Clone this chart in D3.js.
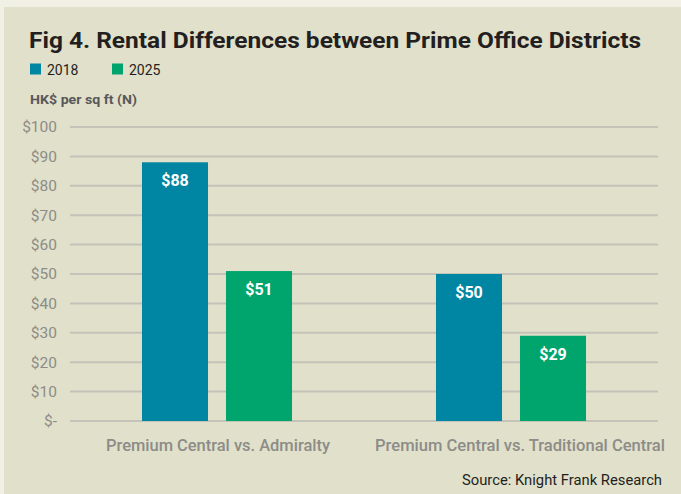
<!DOCTYPE html>
<html>
<head>
<meta charset="utf-8">
<script src="https://cdn.jsdelivr.net/npm/d3@7"></script>
<style>
  body { margin: 0; background: #f1f0e5; }
  svg { display: block; }
</style>
</head>
<body>
<script>
var categories = ["Premium Central vs. Admiralty", "Premium Central vs. Traditional Central"]
var years = ["2018", "2025"]
var values2018 = [88, 50]
var values2025 = [51, 29]
var tickValues = [0, 10, 20, 30, 40, 50, 60, 70, 80, 90, 100]
var tickLabels = ["$-", "$10", "$20", "$30", "$40", "$50", "$60", "$70", "$80", "$90", "$100"]
var colors = {"2018": "#0086a2", "2025": "#00a56e"}

var W = 681, H = 494
var font = "Roboto, 'Liberation Sans', sans-serif"

var rows = categories.map(function (c, i) {
  return {category: c, "2018": values2018[i], "2025": values2025[i]}
})

var svg = d3.select("body").append("svg").attr("width", W).attr("height", H)

// panel
svg.append("rect").attr("x", 4).attr("y", 7).attr("width", W - 4).attr("height", H - 7).attr("fill", "#e1e0ca")

svg.append("text")
  .attr("x", 29).attr("y", 48)
  .attr("font-family", font).attr("font-weight", "bold").attr("font-size", "22px")
  .attr("fill", "#231f20")
  .attr("textLength", 612).attr("lengthAdjust", "spacingAndGlyphs")
  .text("Fig 4. Rental Differences between Prime Office Districts")

// legend
var legendX = [30, 112]
years.forEach(function (y, i) {
  svg.append("rect").attr("x", legendX[i]).attr("y", 63.5).attr("width", 11).attr("height", 11).attr("fill", colors[y])
  svg.append("text").attr("x", legendX[i] + 17).attr("y", 74.5)
    .attr("font-family", font).attr("font-size", "14px").attr("fill", "#231f20").text(y)
})

svg.append("text").attr("x", 30).attr("y", 103.5)
  .attr("font-family", font).attr("font-weight", "bold").attr("font-size", "13px")
  .attr("fill", "#58585a")
  .attr("textLength", 107).attr("lengthAdjust", "spacingAndGlyphs")
  .text("HK$ per sq ft (N)")

var x0 = d3.scaleBand().domain(categories).range([70, 658]).padding(0)
var x1 = d3.scaleBand().domain(years).range([0, x0.bandwidth()])
  .paddingInner(0.214).paddingOuter(0.857)
var y = d3.scaleLinear().domain([0, 100]).range([421, 127])

// gridlines
svg.append("g").selectAll("line").data(tickValues).enter().append("line")
  .attr("x1", 70).attr("x2", 658)
  .attr("y1", function (d) { return y(d) }).attr("y2", function (d) { return y(d) })
  .attr("stroke", "#c4c3b9").attr("stroke-width", 2)

var yAxis = svg.append("g").attr("transform", "translate(57,0)")
  .call(d3.axisLeft(y).tickValues(tickValues).tickSize(0).tickPadding(0)
    .tickFormat(function (d, i) { return tickLabels[i] }))
yAxis.select(".domain").remove()
yAxis.selectAll("text").attr("font-family", font).attr("font-size", "15.5px").attr("fill", "#8c8c88")

var groups = svg.append("g").selectAll("g").data(rows).enter().append("g")
  .attr("transform", function (d) { return "translate(" + x0(d.category) + ",0)" })

groups.selectAll("rect").data(function (d) {
  return years.map(function (k) { return {key: k, value: d[k]} })
}).enter().append("rect")
  .attr("x", function (d) { return x1(d.key) })
  .attr("y", function (d) { return y(d.value) })
  .attr("width", x1.bandwidth())
  .attr("height", function (d) { return y(0) - y(d.value) })
  .attr("fill", function (d) { return colors[d.key] })

groups.selectAll("text").data(function (d) {
  return years.map(function (k) { return {key: k, value: d[k]} })
}).enter().append("text")
  .attr("x", function (d) { return x1(d.key) + x1.bandwidth() / 2 })
  .attr("y", function (d) { return y(d.value) + 24 })
  .attr("text-anchor", "middle")
  .attr("font-family", font).attr("font-weight", "bold").attr("font-size", "16px")
  .attr("fill", "#ffffff")
  .text(function (d) { return "$" + d.value })

// category labels (widths/offsets matched to the original typesetting)
var labelWidths = [224, 290]
var labelShift = [1, 9]
var xAxis = svg.append("g").attr("transform", "translate(0,421)")
  .call(d3.axisBottom(x0).tickSize(0).tickPadding(0))
xAxis.select(".domain").remove()
xAxis.selectAll("text").attr("font-family", font).attr("font-size", "17px").attr("font-weight", 500)
  .attr("fill", "#8c8c88")
  .attr("dy", 0).attr("y", 30)
  .attr("dx", function (d, i) { return labelShift[i] })
  .attr("textLength", function (d, i) { return labelWidths[i] })
  .attr("lengthAdjust", "spacingAndGlyphs")

svg.append("text").attr("x", 662).attr("y", 485).attr("text-anchor", "end")
  .attr("font-family", font).attr("font-size", "14px").attr("fill", "#231f20")
  .attr("textLength", 200).attr("lengthAdjust", "spacingAndGlyphs")
  .text("Source: Knight Frank Research")
</script>
</body>
</html>
